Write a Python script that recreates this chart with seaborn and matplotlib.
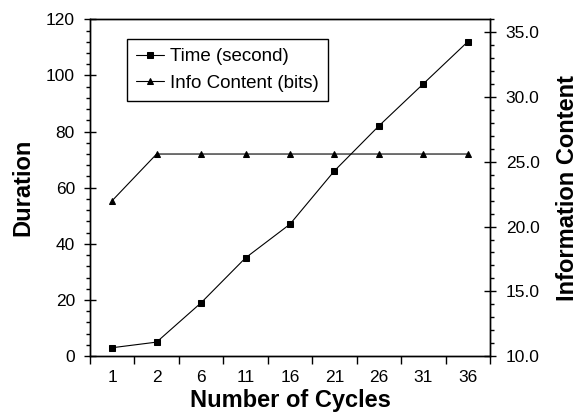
import numpy as np
import pandas as pd
import matplotlib
matplotlib.use("Agg")
import matplotlib.pyplot as plt
import seaborn as sns
from matplotlib.ticker import MultipleLocator, FormatStrFormatter

# dados
ciclos = ["1", "2", "6", "11", "16", "21", "26", "31", "36"]
tempo = [3, 5, 19, 35, 47, 66, 82, 97, 112]
info = [22.0, 25.6, 25.6, 25.6, 25.6, 25.6, 25.6, 25.6, 25.6]

df = pd.DataFrame({"ciclos": ciclos, "tempo": tempo, "info": info})

sns.set_style("ticks")
plt.rcParams["font.family"] = ["Liberation Sans", "DejaVu Sans"]
plt.rcParams["axes.linewidth"] = 1.0
plt.rcParams["text.color"] = "black"
plt.rcParams["axes.labelcolor"] = "black"
plt.rcParams["xtick.color"] = "black"
plt.rcParams["ytick.color"] = "black"

fig = plt.figure(figsize=(5.84, 4.19), dpi=100)
ax = fig.add_axes([0.154, 0.150, 0.685, 0.804])
ax2 = ax.twinx()

sns.lineplot(data=df, x="ciclos", y="tempo", ax=ax, color="black", lw=0.8,
             marker="s", markersize=5, markeredgecolor="black", label="Time (second)",
             legend=False)
sns.lineplot(data=df, x="ciclos", y="info", ax=ax2, color="black", lw=0.8,
             marker="^", markersize=5, markeredgecolor="black", label="Info Content (bits)",
             legend=False)

n = len(ciclos)
ax.set_xlim(-0.5, n - 0.5)
ax.set_xticks(np.arange(n))
ax.set_xticklabels(ciclos)
ax.set_xticks(np.arange(n + 1) - 0.5, minor=True)
ax.tick_params(axis="x", which="major", length=0, pad=10, labelsize=12.5)
ax.tick_params(axis="x", which="minor", length=6, width=1, direction="out")

ax.set_ylim(0, 120)
ax.yaxis.set_major_locator(MultipleLocator(20))
ax.yaxis.set_minor_locator(MultipleLocator(4))
ax.tick_params(axis="y", which="major", length=8.6, width=1, direction="inout", pad=6.5, labelsize=12.5)
ax.tick_params(axis="y", which="minor", length=3, width=1, direction="out")

ax2.set_ylim(10, 36)
ax2.yaxis.set_major_locator(MultipleLocator(5))
ax2.yaxis.set_minor_locator(MultipleLocator(1))
ax2.yaxis.set_major_formatter(FormatStrFormatter("%.1f"))
ax2.tick_params(axis="y", which="major", length=8.6, width=1, direction="inout", pad=7, labelsize=12.5)
ax2.tick_params(axis="y", which="minor", length=3, width=1, direction="out")

for a in (ax, ax2):
    for s in a.spines.values():
        s.set_color("black")
        s.set_linewidth(1.0)

ax.set_xlabel("Number of Cycles", fontsize=17, fontweight="bold", labelpad=3)
ax.set_ylabel("Duration", fontsize=17, fontweight="bold", labelpad=8)
ax2.set_ylabel("Information Content", fontsize=17, fontweight="bold", labelpad=12)

h1, l1 = ax.get_legend_handles_labels()
h2, l2 = ax2.get_legend_handles_labels()
leg = ax.legend(h1 + h2, l1 + l2, loc="upper left", bbox_to_anchor=(0.0925, 0.9415),
                borderaxespad=0, fontsize=13.5, frameon=True, fancybox=False,
                edgecolor="black", framealpha=1, handlelength=1.5, handletextpad=0.3,
                borderpad=0.5, labelspacing=0.5, markerscale=0.8)
leg.get_frame().set_linewidth(1.0)
leg.set_zorder(5)

fig.savefig("out.png", dpi=100)
